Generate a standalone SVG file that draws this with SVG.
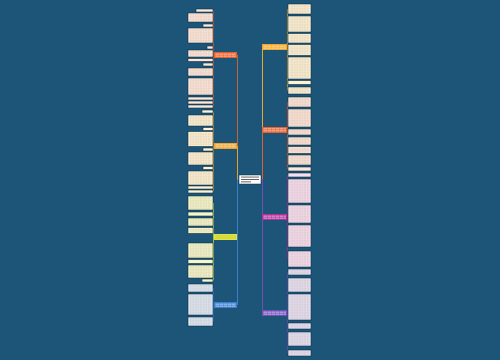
<svg xmlns="http://www.w3.org/2000/svg" width="500" height="360" viewBox="0 0 500 360">
<style>
.leaf{stroke:#0f2f44;stroke-width:0.6}
.l1{fill:#fde9dc}.l2{fill:#fdf3d6}.l3{fill:#f4f7cc}.l4{fill:#dde9f7}
.r1{fill:#fdf3d6}.r2{fill:#fde6da}.r3{fill:#f6dff0}.r4{fill:#e7e2f5}
.txt{fill:url(#lines)}
.conn{fill:none;stroke-width:1}
.sub{fill:none;stroke-width:0.7}
</style>
<defs>
<pattern id="lines" width="2.6" height="1.6" patternUnits="userSpaceOnUse">
<rect x="0" y="0.3" width="2.2" height="0.8" fill="#a08070" opacity="0.35"/>
</pattern>
<pattern id="wlines" width="4" height="2" patternUnits="userSpaceOnUse">
<rect x="0" y="0.5" width="3.6" height="0.8" fill="#ffffff" opacity="0.8"/>
</pattern>
</defs>
<rect width="500" height="360" fill="#1c5578"/>

<g id="connectors">
<path class="conn" stroke="#c0623a" d="M239,179.5 H237.5 V55"/>
<path class="conn" stroke="#e8a030" d="M239,179.5 H237.5 V146"/>
<path class="conn" stroke="#d8e43a" d="M239,179.5 H237.5 V237"/>
<path class="conn" stroke="#3a7ed0" d="M239,179.5 H237.5 V305"/>
<path class="conn" stroke="#e8a82a" d="M261,179.5 H262.5 V47"/>
<path class="conn" stroke="#e0602c" d="M261,179.5 H262.5 V130"/>
<path class="conn" stroke="#b0309a" d="M261,179.5 H262.5 V217"/>
<path class="conn" stroke="#7050b8" d="M261,179.5 H262.5 V313"/>
<path class="sub" stroke="#e8602c" d="M214,55 H213.5 M213.5,10.5 V106.5"/>
<path class="sub" stroke="#f0a22a" d="M214,146 H213.5 M213.5,111.5 V191.5"/>
<path class="sub" stroke="#d8e43a" d="M214,237 H213.5 M213.5,203 V280.5"/>
<path class="sub" stroke="#3a7ed0" d="M214,305 H213.5 M213.5,288 V321.5"/>
<path class="sub" stroke="#f2a82a" d="M287,47 H287.5 M287.5,9 V90.5"/>
<path class="sub" stroke="#e8602c" d="M287,130 H287.5 M287.5,102 V169"/>
<path class="sub" stroke="#b0309a" d="M287,217 H287.5 M287.5,175 V259"/>
<path class="sub" stroke="#7050b8" d="M287,313 H287.5 M287.5,272 V353"/>
</g>

<g id="center">
<rect x="239" y="175" width="22" height="9" fill="#ffffff" stroke="#0f2f44" stroke-width="0.5"/>
<rect x="241" y="176.6" width="18" height="0.9" fill="#555"/>
<rect x="241" y="179" width="18" height="0.9" fill="#555"/>
<rect x="241" y="181.4" width="10" height="0.9" fill="#555"/>
</g>

<g id="branch-l1"><rect x="214" y="52" width="23" height="6" fill="#e8602c"/><rect x="215" y="53" width="21" height="4" fill="url(#wlines)"/></g>
<g id="branch-l2"><rect x="214" y="143" width="23" height="6" fill="#f0a22a"/><rect x="215" y="144" width="21" height="4" fill="url(#wlines)"/></g>
<g id="branch-l3"><rect x="214" y="234" width="23" height="6" fill="#dfe83a"/><rect x="215" y="235" width="21" height="4" fill="url(#lines)"/></g>
<g id="branch-l4"><rect x="214" y="302" width="23" height="6" fill="#3a7ed0"/><rect x="215" y="303" width="21" height="4" fill="url(#wlines)"/></g>
<g id="branch-r1"><rect x="262" y="44" width="25" height="6" fill="#f2a82a"/><rect x="263" y="45" width="23" height="4" fill="url(#wlines)"/></g>
<g id="branch-r2"><rect x="262" y="127" width="25" height="6" fill="#e8602c"/><rect x="263" y="128" width="23" height="4" fill="url(#wlines)"/></g>
<g id="branch-r3"><rect x="262" y="214" width="25" height="6" fill="#b0309a"/><rect x="263" y="215" width="23" height="4" fill="url(#wlines)"/></g>
<g id="branch-r4"><rect x="262" y="310" width="25" height="6" fill="#7050b8"/><rect x="263" y="311" width="23" height="4" fill="url(#wlines)"/></g>

<g id="leaves-l1">
<rect class="leaf l1" x="196" y="9" width="17" height="3"/>
<rect class="leaf l1" x="188" y="13" width="25" height="9"/><rect class="txt" x="189.5" y="14" width="22" height="7"/>
<rect class="leaf l1" x="203" y="24" width="10" height="3"/>
<rect class="leaf l1" x="188" y="28" width="25" height="15"/><rect class="txt" x="189.5" y="29" width="22" height="13"/>
<rect class="leaf l1" x="207" y="46" width="6" height="3"/>
<rect class="leaf l1" x="188" y="50" width="25" height="7"/><rect class="txt" x="189.5" y="51" width="22" height="5"/>
<rect class="leaf l1" x="188" y="58.5" width="25" height="3"/>
<rect class="leaf l1" x="203" y="63" width="10" height="3"/>
<rect class="leaf l1" x="188" y="68" width="25" height="8"/><rect class="txt" x="189.5" y="69" width="22" height="6"/>
<rect class="leaf l1" x="188" y="78" width="25" height="17"/><rect class="txt" x="189.5" y="79" width="22" height="15"/>
<rect class="leaf l1" x="188" y="97" width="25" height="3"/>
<rect class="leaf l1" x="188" y="101" width="25" height="3"/>
<rect class="leaf l1" x="188" y="105" width="25" height="3"/>
</g>
<g id="leaves-l2">
<rect class="leaf l2" x="202" y="110" width="11" height="3"/>
<rect class="leaf l2" x="188" y="115" width="25" height="11"/><rect class="txt" x="189.5" y="116" width="22" height="9"/>
<rect class="leaf l2" x="203" y="127.5" width="10" height="3"/>
<rect class="leaf l2" x="188" y="131.5" width="25" height="15"/><rect class="txt" x="189.5" y="132.5" width="22" height="13"/>
<rect class="leaf l2" x="203" y="148" width="10" height="3"/>
<rect class="leaf l2" x="188" y="152" width="25" height="13"/><rect class="txt" x="189.5" y="153" width="22" height="11"/>
<rect class="leaf l2" x="203" y="166.5" width="10" height="3"/>
<rect class="leaf l2" x="188" y="171" width="25" height="14"/><rect class="txt" x="189.5" y="172" width="22" height="12"/>
<rect class="leaf l2" x="188" y="186" width="25" height="3"/>
<rect class="leaf l2" x="188" y="190" width="25" height="3"/>
</g>
<g id="leaves-l3">
<rect class="leaf l3" x="188" y="196" width="25" height="14"/><rect class="txt" x="189.5" y="197" width="22" height="12"/>
<rect class="leaf l3" x="188" y="212" width="25" height="4"/>
<rect class="leaf l3" x="188" y="218" width="25" height="8"/><rect class="txt" x="189.5" y="219" width="22" height="6"/>
<rect class="leaf l3" x="188" y="227.5" width="25" height="6"/><rect class="txt" x="189.5" y="228.5" width="22" height="4"/>
<rect class="leaf l3" x="188" y="243" width="25" height="15"/><rect class="txt" x="189.5" y="244" width="22" height="13"/>
<rect class="leaf l3" x="188" y="259.5" width="25" height="4"/>
<rect class="leaf l3" x="188" y="265" width="25" height="13"/><rect class="txt" x="189.5" y="266" width="22" height="11"/>
<rect class="leaf l3" x="202" y="279" width="11" height="3"/>
</g>
<g id="leaves-l4">
<rect class="leaf l4" x="188" y="284" width="25" height="8"/><rect class="txt" x="189.5" y="285" width="22" height="6"/>
<rect class="leaf l4" x="188" y="294" width="25" height="21"/><rect class="txt" x="189.5" y="295" width="22" height="19"/>
<rect class="leaf l4" x="188" y="317" width="25" height="9"/><rect class="txt" x="189.5" y="318" width="22" height="7"/>
</g>

<g id="leaves-r1">
<rect class="leaf r1" x="288" y="4" width="23" height="10"/><rect class="txt" x="289.5" y="5" width="20" height="8"/>
<rect class="leaf r1" x="288" y="16" width="23" height="16"/><rect class="txt" x="289.5" y="17" width="20" height="14"/>
<rect class="leaf r1" x="288" y="33.5" width="23" height="9.5"/><rect class="txt" x="289.5" y="34.5" width="20" height="7.5"/>
<rect class="leaf r1" x="288" y="44.5" width="23" height="11"/><rect class="txt" x="289.5" y="45.5" width="20" height="9"/>
<rect class="leaf r1" x="288" y="57" width="23" height="22"/><rect class="txt" x="289.5" y="58" width="20" height="20"/>
<rect class="leaf r1" x="288" y="80.5" width="23" height="4"/>
<rect class="leaf r1" x="288" y="87" width="23" height="7"/><rect class="txt" x="289.5" y="88" width="20" height="5"/>
</g>
<g id="leaves-r2">
<rect class="leaf r2" x="288" y="97" width="23" height="10"/><rect class="txt" x="289.5" y="98" width="20" height="8"/>
<rect class="leaf r2" x="288" y="109" width="23" height="18"/><rect class="txt" x="289.5" y="110" width="20" height="16"/>
<rect class="leaf r2" x="288" y="129" width="23" height="6"/><rect class="txt" x="289.5" y="130" width="20" height="4"/>
<rect class="leaf r2" x="288" y="137" width="23" height="8"/><rect class="txt" x="289.5" y="138" width="20" height="6"/>
<rect class="leaf r2" x="288" y="146.5" width="23" height="7"/><rect class="txt" x="289.5" y="147.5" width="20" height="5"/>
<rect class="leaf r2" x="288" y="155" width="23" height="10"/><rect class="txt" x="289.5" y="156" width="20" height="8"/>
<rect class="leaf r2" x="288" y="167" width="23" height="4"/>
</g>
<g id="leaves-r3">
<rect class="leaf r3" x="288" y="173" width="23" height="4"/>
<rect class="leaf r3" x="288" y="179" width="23" height="24"/><rect class="txt" x="289.5" y="180" width="20" height="22"/>
<rect class="leaf r3" x="288" y="205" width="23" height="18"/><rect class="txt" x="289.5" y="206" width="20" height="16"/>
<rect class="leaf r3" x="288" y="225" width="23" height="22"/><rect class="txt" x="289.5" y="226" width="20" height="20"/>
<rect class="leaf r3" x="288" y="251" width="23" height="16"/><rect class="txt" x="289.5" y="252" width="20" height="14"/>
</g>
<g id="leaves-r4">
<rect class="leaf r4" x="288" y="269" width="23" height="6"/><rect class="txt" x="289.5" y="270" width="20" height="4"/>
<rect class="leaf r4" x="288" y="278" width="23" height="14"/><rect class="txt" x="289.5" y="279" width="20" height="12"/>
<rect class="leaf r4" x="288" y="294" width="23" height="26"/><rect class="txt" x="289.5" y="295" width="20" height="24"/>
<rect class="leaf r4" x="288" y="323" width="23" height="6"/><rect class="txt" x="289.5" y="324" width="20" height="4"/>
<rect class="leaf r4" x="288" y="332" width="23" height="14"/><rect class="txt" x="289.5" y="333" width="20" height="12"/>
<rect class="leaf r4" x="288" y="350" width="23" height="6"/><rect class="txt" x="289.5" y="351" width="20" height="4"/>
</g>
</svg>
